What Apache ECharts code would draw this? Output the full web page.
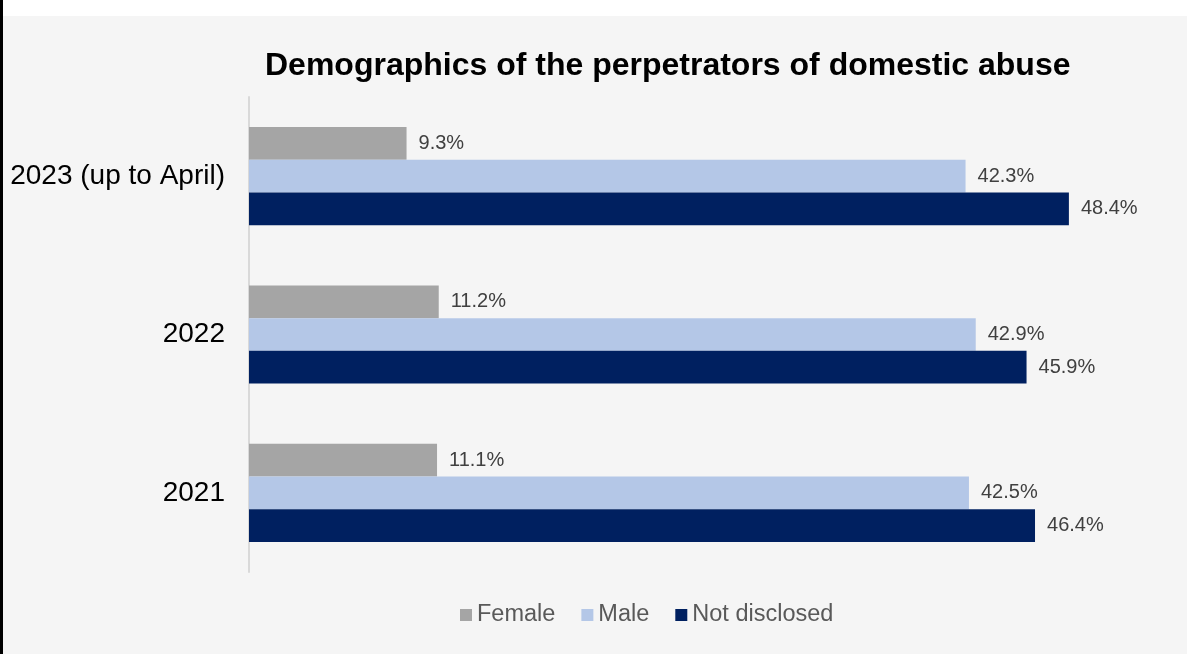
<!DOCTYPE html>
<html>
<head>
<meta charset="utf-8">
<script src="https://cdn.jsdelivr.net/npm/echarts@6/dist/echarts.min.js"></script>
<style>
  body { margin: 0; background: #fff; }
  .edge { position: absolute; left: 0; top: 0; width: 3px; height: 654px; background: #000; }
  #chart { position: absolute; left: 3px; top: 16px; width: 1184px; height: 638px; }
</style>
</head>
<body>
<div class="edge"></div>
<div id="chart"></div>
<script>
const years = ['2023 (up to April)', '2022', '2021']
const female = [9.3, 11.2, 11.1]
const male = [42.3, 42.9, 42.5]
const notDisclosed = [48.4, 45.9, 46.4]

const font = '"Liberation Sans", Arial, sans-serif'

let label = {
  show: true,
  position: 'right',
  distance: 12,
  color: '#404040',
  fontSize: 20,
  fontFamily: font,
  formatter: (p) => p.value.toFixed(1) + '%',
}

let option = {
  backgroundColor: '#f5f5f5',
  animation: false,
  title: {
    text: 'Demographics of the perpetrators of domestic abuse',
    left: 257,
    top: 29,
    textStyle: { fontSize: 32, fontWeight: 'bold', color: '#000', fontFamily: font },
  },
  legend: {
    left: 457,
    bottom: 27,
    padding: 0,
    itemWidth: 12,
    itemHeight: 12,
    itemGap: 26,
    icon: 'rect',
    textStyle: { fontSize: 23.5, color: '#595959', fontFamily: font },
    data: ['Female', 'Male', 'Not disclosed'],
  },
  grid: { left: 246, top: 81, bottom: 82, width: 847 },
  xAxis: {
    type: 'value',
    min: 0,
    max: 50,
    show: false,
  },
  yAxis: {
    type: 'category',
    inverse: true,
    data: years,
    axisLine: { show: true, lineStyle: { color: '#d9d9d9', width: 2 } },
    axisTick: { show: false },
    axisLabel: { fontSize: 28, color: '#000', margin: 24, fontFamily: font },
  },
  series: [
    { name: 'Female', type: 'bar', data: female, itemStyle: { color: '#a5a5a5' }, barGap: '0%', barCategoryGap: '38%', label },
    { name: 'Male', type: 'bar', data: male, itemStyle: { color: '#b4c7e7' }, barGap: '0%', barCategoryGap: '38%', label },
    { name: 'Not disclosed', type: 'bar', data: notDisclosed, itemStyle: { color: '#002060' }, barGap: '0%', barCategoryGap: '38%', label },
  ],
}

let myChart = echarts.init(document.getElementById('chart'))
myChart.setOption(option)
</script>
</body>
</html>
